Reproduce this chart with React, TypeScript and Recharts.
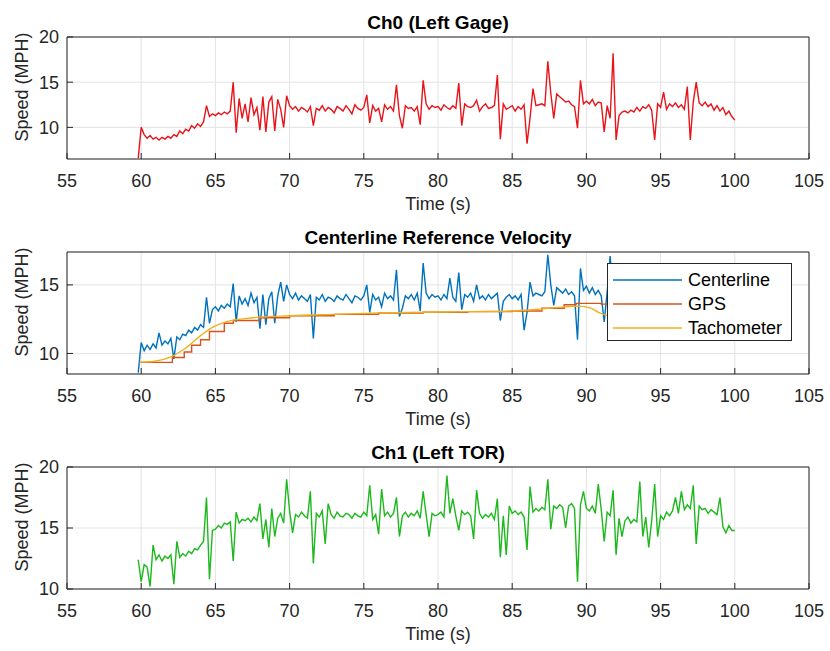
import React from "react";
import { LineChart, Line, XAxis, YAxis, CartesianGrid, Legend } from "recharts";

// sample times (s), shared by the three noisy channels
const time = [
  59.8,
  60.0, 60.2, 60.4, 60.6, 60.8,
  61.0, 61.2, 61.4, 61.6, 61.8,
  62.0, 62.2, 62.4, 62.6, 62.8,
  63.0, 63.2, 63.4, 63.6, 63.8,
  64.0, 64.2, 64.4, 64.6, 64.8,
  65.0, 65.2, 65.4, 65.6, 65.8,
  66.0, 66.2, 66.4, 66.6, 66.8,
  67.0, 67.2, 67.4, 67.6, 67.8,
  68.0, 68.2, 68.4, 68.6, 68.8,
  69.0, 69.2, 69.4, 69.6, 69.8,
  70.0, 70.2, 70.4, 70.6, 70.8,
  71.0, 71.2, 71.4, 71.6, 71.8,
  72.0, 72.2, 72.4, 72.6, 72.8,
  73.0, 73.2, 73.4, 73.6, 73.8,
  74.0, 74.2, 74.4, 74.6, 74.8,
  75.0, 75.2, 75.4, 75.6, 75.8,
  76.0, 76.2, 76.4, 76.6, 76.8,
  77.0, 77.2, 77.4, 77.6, 77.8,
  78.0, 78.2, 78.4, 78.6, 78.8,
  79.0, 79.2, 79.4, 79.6, 79.8,
  80.0, 80.2, 80.4, 80.6, 80.8,
  81.0, 81.2, 81.4, 81.6, 81.8,
  82.0, 82.2, 82.4, 82.6, 82.8,
  83.0, 83.2, 83.4, 83.6, 83.8,
  84.0, 84.2, 84.4, 84.6, 84.8,
  85.0, 85.2, 85.4, 85.6, 85.8,
  86.0, 86.2, 86.4, 86.6, 86.8,
  87.0, 87.2, 87.4, 87.6, 87.8,
  88.0, 88.2, 88.4, 88.6, 88.8,
  89.0, 89.2, 89.4, 89.6, 89.8,
  90.0, 90.2, 90.4, 90.6, 90.8,
  91.0, 91.2, 91.4, 91.6, 91.8,
  92.0, 92.2, 92.4, 92.6, 92.8,
  93.0, 93.2, 93.4, 93.6, 93.8,
  94.0, 94.2, 94.4, 94.6, 94.8,
  95.0, 95.2, 95.4, 95.6, 95.8,
  96.0, 96.2, 96.4, 96.6, 96.8,
  97.0, 97.2, 97.4, 97.6, 97.8,
  98.0, 98.2, 98.4, 98.6, 98.8,
  99.0, 99.2, 99.4, 99.6, 99.8,
  100.0,
];

// Ch0 (Left Gage), MPH
const ch0Speed = [
  6.6,
  10.0, 9.2, 8.8, 9.1, 8.7,
  8.9, 8.6, 8.9, 8.7, 9.0,
  8.8, 9.2, 9.0, 9.6, 9.3,
  9.8, 9.6, 10.2, 9.9, 10.4,
  10.1, 10.6, 12.4, 11.2, 11.5,
  11.3, 11.6, 11.4, 11.7, 11.5,
  11.8, 15.0, 9.4, 13.2, 11.0,
  12.6, 10.6, 13.3, 11.4, 12.2,
  9.7, 13.4, 9.5, 12.8, 13.4,
  9.6, 13.1, 12.0, 10.0, 13.5,
  12.4, 12.0, 12.3, 11.8, 12.2,
  12.0, 11.7, 12.3, 10.2, 12.1,
  11.9, 12.4, 11.8, 12.2, 12.0,
  11.6, 12.3, 12.1, 11.8, 12.4,
  12.0, 11.5, 12.5, 12.1, 11.9,
  12.2, 13.6, 10.5, 12.4, 11.8,
  12.1, 10.6, 12.5, 12.0, 12.3,
  11.8, 14.7, 11.3, 9.9, 12.4,
  12.1, 12.2, 11.8, 12.3, 10.3,
  15.2, 12.6, 12.0, 12.4, 12.2,
  12.3, 11.9, 12.5, 12.2, 12.0,
  12.4, 12.1, 14.9, 10.2, 12.6,
  12.3, 12.2, 12.4, 13.0, 11.8,
  12.3, 12.6, 12.1, 12.2, 12.4,
  15.8, 8.7, 12.6, 12.0, 12.2,
  12.4, 11.8, 12.3, 12.0, 12.5,
  8.2, 11.0, 14.3, 12.4, 12.5,
  12.6, 12.4, 17.3, 13.8, 11.0,
  13.7, 13.4, 13.1, 12.8, 12.9,
  12.5, 12.3, 9.9, 15.2, 12.6,
  12.9, 12.6, 13.1, 12.4, 12.8,
  12.7, 9.5, 12.4, 11.0, 18.2,
  8.6, 11.3, 11.7, 11.8, 11.6,
  11.9, 11.7, 12.2, 11.8, 12.3,
  12.1, 12.5, 11.9, 8.6, 12.6,
  12.2, 13.9, 12.0, 12.6, 12.3,
  12.7, 12.2, 12.5, 12.0, 14.5,
  8.6, 12.8, 15.0, 12.7, 12.4,
  12.8, 12.3, 12.6, 11.9, 12.4,
  11.8, 12.2, 11.4, 11.8, 11.2,
  10.8,
];

// Centerline, MPH (the rest is hidden behind the legend)
const centerlineSpeed = [
  8.6,
  10.8, 10.2, 10.6, 10.3, 10.7,
  10.4, 11.5, 10.6, 10.9, 10.7,
  11.1, 9.6, 11.2, 11.0, 11.4,
  11.3, 11.7, 11.5, 11.9, 11.7,
  12.1, 11.9, 14.1, 12.2, 13.2,
  13.4, 13.1, 13.5, 13.3, 13.6,
  13.4, 15.1, 12.3, 14.2, 13.6,
  14.0, 13.5, 14.4, 13.7, 14.1,
  11.8, 14.3, 12.1, 14.0, 14.5,
  12.2, 14.2, 15.2, 13.8, 15.0,
  14.3, 14.0, 14.4, 13.9, 14.2,
  14.0, 13.8, 14.3, 11.1, 14.1,
  13.9, 14.3, 13.8, 14.1, 14.0,
  13.8, 14.2, 14.0, 13.9, 14.3,
  14.0, 13.7, 14.2, 14.1, 13.9,
  14.2, 15.0, 13.0, 14.3, 13.9,
  14.1, 13.4, 14.4, 14.0, 14.2,
  13.9, 16.1, 12.7, 13.3, 14.2,
  14.0, 14.3, 13.9, 14.4, 13.1,
  16.6, 14.4, 14.0, 14.3, 14.1,
  14.2, 13.9, 14.3, 14.0, 15.5,
  14.1, 13.8, 15.9, 13.2, 14.3,
  14.1, 14.4, 13.8, 15.0, 14.0,
  14.2, 13.9, 14.3, 14.0, 14.2,
  14.4, 12.4, 13.8, 14.1, 14.3,
  14.0, 14.2, 13.9, 14.3, 11.7,
  13.0, 15.2, 14.2, 14.4, 14.3,
  14.2, 14.5, 17.2, 15.0, 13.5,
  14.8, 14.6, 14.4, 14.7, 14.3,
  14.5, 14.2, 11.0, 16.2, 14.6,
  14.9, 14.4, 14.8, 14.3, 14.6,
  14.2, 12.3, 14.5, 17.1, 14.4,
  14.1,
];

const gpsTime = [59.9, 62.1, 62.9, 63.4, 64.0, 64.6, 65.6, 66.2, 68.0, 70.0, 73.0, 76.0, 79.0, 82.0, 85.0, 87.0, 88.5, 89.3, 91.0, 92.0];
const gpsSpeed = [9.35, 9.7, 10.1, 10.6, 11.0, 11.6, 12.2, 12.4, 12.6, 12.75, 12.85, 12.95, 13.0, 13.05, 13.1, 13.3, 13.55, 13.65, 13.6, 13.6];

const tachTime = [59.9, 61.0, 62.0, 63.0, 64.0, 64.8, 65.7, 67.5, 70.0, 73.0, 76.0, 79.0, 82.0, 85.0, 87.0, 88.5, 89.5, 90.3, 90.8, 91.3, 92.0];
const tachSpeed = [9.35, 9.45, 9.75, 10.4, 11.3, 11.9, 12.3, 12.6, 12.75, 12.85, 12.95, 13.0, 13.05, 13.1, 13.25, 13.4, 13.45, 13.3, 13.0, 12.8, 12.7];

// Ch1 (Left TOR), MPH
const ch1Speed = [
  12.4,
  10.6, 12.0, 11.8, 10.2, 13.6,
  12.4, 12.8, 12.3, 12.7, 12.5,
  12.8, 10.4, 13.9, 12.6, 12.9,
  12.7, 13.1, 12.9, 13.3, 13.2,
  13.6, 13.9, 17.5, 10.8, 14.8,
  14.9, 15.2, 15.0, 15.4, 15.3,
  15.5, 12.3, 16.3, 15.4, 15.7,
  15.6, 15.8, 15.5, 15.9, 15.6,
  17.0, 14.1, 15.7, 13.4, 16.6,
  14.3, 15.8, 16.2, 15.4, 19.0,
  16.4, 14.6, 16.1, 15.9, 16.3,
  16.0, 15.8, 18.0, 12.1, 16.2,
  15.9, 16.4, 13.7, 17.0, 16.1,
  15.8, 16.3, 16.0, 15.9, 16.2,
  16.1, 15.8, 16.2, 16.0, 15.9,
  16.3, 16.0, 18.5, 15.7, 16.1,
  14.5, 18.2, 16.0, 16.3, 15.9,
  16.2, 17.5, 14.3, 16.0, 16.3,
  15.9, 16.2, 16.0, 16.4, 15.8,
  18.0, 16.1, 14.3, 16.2, 16.0,
  16.1, 16.3, 15.9, 19.3, 16.2,
  17.4, 16.0, 14.8, 16.4, 16.1,
  16.3, 16.0, 14.1, 18.1, 16.2,
  15.8, 16.1, 15.9, 16.2, 15.7,
  17.4, 12.6, 16.0, 12.8, 16.8,
  16.2, 16.4, 16.1, 16.3, 15.9,
  13.2, 18.4, 16.3, 16.6, 16.4,
  16.7, 16.5, 19.0, 14.9, 16.8,
  16.6, 16.9, 16.7, 15.0, 16.8,
  17.0, 16.6, 10.6, 16.9, 18.0,
  16.6, 16.4, 16.8, 16.2, 18.6,
  16.5, 13.9, 16.3, 16.0, 18.1,
  12.8, 15.8, 14.3, 15.6, 15.9,
  15.4, 15.7, 15.5, 18.8, 14.3,
  15.9, 13.4, 15.6, 18.6, 14.3,
  16.0, 15.7, 16.3, 16.0, 16.4,
  17.5, 16.2, 18.0, 16.5, 16.9,
  16.6, 18.5, 13.7, 16.8, 16.5,
  16.6, 16.2, 16.5, 16.3, 16.1,
  17.5, 15.1, 14.6, 15.2, 14.8,
  14.8,
];

const xTicks = [55, 60, 65, 70, 75, 80, 85, 90, 95, 100, 105];

const legendNames = ["Centerline", "GPS", "Tachometer"];

const FONT = '"Liberation Sans", Arial, Helvetica, sans-serif';
const AXIS = "#262626";
const GRID = "#e3e3e3";
const RED = "#e8141a";
const BLUE = "#0072BD";
const ORANGE = "#D95319";
const YELLOW = "#EDB120";
const GREEN = "#1cb81c";
const LEGEND_COLORS = [BLUE, ORANGE, YELLOW];

const W = 830;
const H = 215;
const MARGIN = { top: 36, right: 20, bottom: 0, left: 17 };
const PLOT_CX = 438;

const toPoints = (ts: number[], vs: number[]) => vs.map((v, i) => ({ t: ts[i], v }));

function XLabel() {
  return (
    <text x={PLOT_CX} y={210} textAnchor="middle" fontSize={18} fill={AXIS}>
      Time (s)
    </text>
  );
}

function YLabel() {
  return (
    <text
      x={22}
      y={87}
      transform="rotate(-90, 22, 87)"
      textAnchor="middle"
      dominantBaseline="central"
      fontSize={18}
      fill={AXIS}
    >
      Speed (MPH)
    </text>
  );
}

function LegendBox() {
  return (
    <div
      style={{
        width: 185,
        height: 78,
        boxSizing: "border-box",
        border: `1px solid ${AXIS}`,
        background: "#fff",
        paddingTop: 4,
        fontFamily: FONT,
        fontSize: 18,
        color: "#000",
      }}
    >
      {legendNames.map((name, i) => (
        <div key={name} style={{ height: 24, display: "flex", alignItems: "center" }}>
          <svg width={80} height={24}>
            <line x1={5} x2={74} y1={12} y2={12} stroke={LEGEND_COLORS[i]} strokeWidth={1.5} />
          </svg>
          <span>{name}</span>
        </div>
      ))}
    </div>
  );
}

function Panel({ top, title, yDomain, yTicks, children }: any) {
  return (
    <div style={{ position: "absolute", left: 0, top, width: W, height: H }}>
      <div
        style={{
          position: "absolute",
          left: 67,
          width: 742,
          top: 12,
          textAlign: "center",
          fontSize: 19,
          fontWeight: "bold",
          lineHeight: "22px",
          color: "#000",
        }}
      >
        {title}
      </div>
      <LineChart width={W} height={H} margin={MARGIN}>
        <CartesianGrid stroke={GRID} />
        <XAxis
          dataKey="t"
          type="number"
          domain={[55, 105]}
          ticks={xTicks}
          allowDataOverflow
          height={56}
          stroke={AXIS}
          tickSize={-6}
          tickMargin={21}
          tick={{ fontSize: 18, fill: AXIS }}
          label={<XLabel />}
        />
        <XAxis
          xAxisId="top"
          orientation="top"
          dataKey="t"
          type="number"
          domain={[55, 105]}
          ticks={xTicks}
          allowDataOverflow
          height={1}
          stroke={AXIS}
          tickSize={-6}
          tick={false}
        />
        <YAxis
          type="number"
          domain={yDomain}
          ticks={yTicks}
          allowDataOverflow
          width={50}
          stroke={AXIS}
          tickSize={-6}
          tickMargin={14}
          tick={{ fontSize: 18, fill: AXIS }}
          label={<YLabel />}
        />
        <YAxis
          yAxisId="right"
          orientation="right"
          type="number"
          domain={yDomain}
          ticks={yTicks}
          allowDataOverflow
          width={1}
          stroke={AXIS}
          tickSize={-6}
          tick={false}
        />
        {children}
      </LineChart>
    </div>
  );
}

export default function App() {
  const ch0Data = toPoints(time, ch0Speed);
  const centerlineData = toPoints(time, centerlineSpeed);
  const gpsData = toPoints(gpsTime, gpsSpeed);
  const tachData = toPoints(tachTime, tachSpeed);
  const ch1Data = toPoints(time, ch1Speed);

  return (
    <div
      style={{
        position: "absolute",
        left: 0,
        top: 0,
        width: 830,
        height: 651,
        background: "#fff",
        fontFamily: FONT,
      }}
    >
      <Panel top={0} title="Ch0 (Left Gage)" yDomain={[6.5, 20]} yTicks={[10, 15, 20]}>
        <Line
          data={ch0Data}
          dataKey="v"
          type="linear"
          stroke={RED}
          strokeWidth={1.4}
          dot={false}
          isAnimationActive={false}
        />
      </Panel>

      <Panel top={215} title="Centerline Reference Velocity" yDomain={[8.5, 17.4]} yTicks={[10, 15]}>
        <Line
          data={centerlineData}
          dataKey="v"
          name="Centerline"
          type="linear"
          stroke={BLUE}
          strokeWidth={1.4}
          dot={false}
          isAnimationActive={false}
        />
        <Line
          data={gpsData}
          dataKey="v"
          name="GPS"
          type="stepAfter"
          stroke={ORANGE}
          strokeWidth={1.4}
          dot={false}
          isAnimationActive={false}
        />
        <Line
          data={tachData}
          dataKey="v"
          name="Tachometer"
          type="monotone"
          stroke={YELLOW}
          strokeWidth={1.4}
          dot={false}
          isAnimationActive={false}
        />
        <Legend
          layout="vertical"
          align="center"
          verticalAlign="middle"
          wrapperStyle={{ left: 607, top: 48 }}
          content={() => <LegendBox />}
        />
      </Panel>

      <Panel top={430} title="Ch1 (Left TOR)" yDomain={[10, 20]} yTicks={[10, 15, 20]}>
        <Line
          data={ch1Data}
          dataKey="v"
          type="linear"
          stroke={GREEN}
          strokeWidth={1.4}
          dot={false}
          isAnimationActive={false}
        />
      </Panel>
    </div>
  );
}
